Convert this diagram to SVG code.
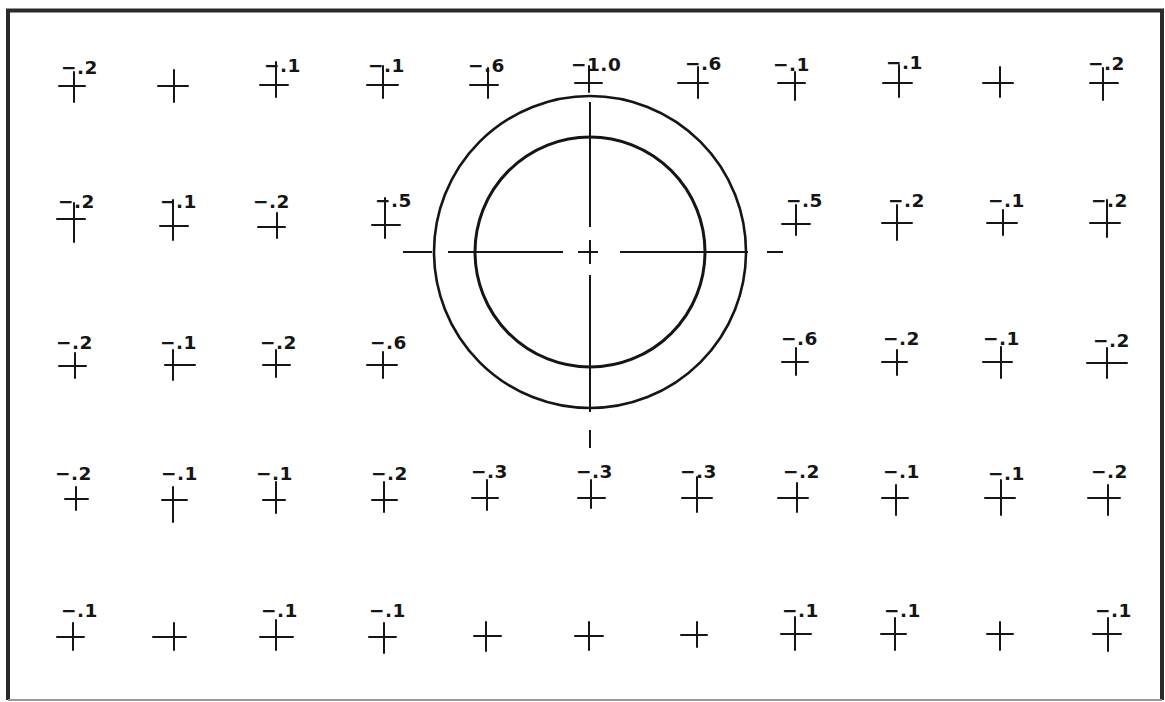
<svg xmlns="http://www.w3.org/2000/svg" width="1165" height="702" viewBox="0 0 1165 702">
<style>
.frame{fill:none;stroke:#2a2a2a;stroke-width:4}
.fb{fill:none;stroke:#9a9a9a;stroke-width:2}
.x{fill:none;stroke:#151515;stroke-width:2;stroke-linecap:round}
.c1{fill:none;stroke:#151515;stroke-width:2.6}
.c2{fill:none;stroke:#151515;stroke-width:3}
.cl{fill:none;stroke:#151515;stroke-width:2}
text{font-family:"DejaVu Sans","Liberation Sans",sans-serif;font-weight:bold;font-size:18.5px;fill:#151515;letter-spacing:0.5px}
</style>
<rect width="1165" height="702" fill="#ffffff"/>
<path class="frame" d="M8 700 V10.5 H1162 V700"/>
<line class="fb" x1="8" y1="700" x2="1162" y2="700"/>
<g id="ring">
<circle class="c1" cx="590" cy="252" r="156"/>
<circle class="c2" cx="590" cy="252" r="115"/>
</g>
<g id="centerlines">
<path class="cl" d="M403 252H432 M448 252H563 M578 252H598 M620 252H748 M767 252H783"/>
<path class="cl" d="M590 102V227 M590 240V264 M590 275V412 M590 430V448"/>
</g>
<g id="r1">
<g id="n1-1"><path class="x" d="M59 86H85M74 72V102"/><text x="61" y="74">−.2</text></g>
<g id="n1-2"><path class="x" d="M158 86H188M174 70V102"/></g>
<g id="n1-3"><path class="x" d="M260 85H288M276 62V97"/><text x="264" y="72">−.1</text></g>
<g id="n1-4"><path class="x" d="M367 85H398M383 66V98"/><text x="368" y="72">−.1</text></g>
<g id="n1-5"><path class="x" d="M470 85H498M488 68V98"/><text x="468" y="72">−.6</text></g>
<g id="n1-6"><path class="x" d="M575 83H602M589 66V92"/><text x="571" y="71">−1.0</text></g>
<g id="n1-7"><path class="x" d="M678 83H708M698 67V98"/><text x="685" y="70">−.6</text></g>
<g id="n1-8"><path class="x" d="M778 83H805M795 72V100"/><text x="773" y="71">−.1</text></g>
<g id="n1-9"><path class="x" d="M883 83H912M899 65V97"/><text x="886" y="69">−.1</text></g>
<g id="n1-10"><path class="x" d="M983 83H1013M1000 67V97"/></g>
<g id="n1-11"><path class="x" d="M1090 83H1118M1103 68V100"/><text x="1088" y="70">−.2</text></g>
</g>
<g id="r2">
<g id="n2-1"><path class="x" d="M57 219H85M74 203V242"/><text x="58" y="208">−.2</text></g>
<g id="n2-2"><path class="x" d="M160 226H188M173 200V240"/><text x="160" y="208">−.1</text></g>
<g id="n2-3"><path class="x" d="M258 227H285M277 213V238"/><text x="253" y="208">−.2</text></g>
<g id="n2-4"><path class="x" d="M372 225H400M385 198V238"/><text x="375" y="207">−.5</text></g>
<g id="n2-8"><path class="x" d="M782 224H810M796 205V235"/><text x="786" y="207">−.5</text></g>
<g id="n2-9"><path class="x" d="M882 223H912M897 205V240"/><text x="888" y="207">−.2</text></g>
<g id="n2-10"><path class="x" d="M987 223H1017M1003 210V235"/><text x="988" y="207">−.1</text></g>
<g id="n2-11"><path class="x" d="M1090 223H1120M1107 200V237"/><text x="1091" y="207">−.2</text></g>
</g>
<g id="r3">
<g id="n3-1"><path class="x" d="M59 366H86M75 353V378"/><text x="56" y="349">−.2</text></g>
<g id="n3-2"><path class="x" d="M165 365H195M173 350V380"/><text x="160" y="349">−.1</text></g>
<g id="n3-3"><path class="x" d="M263 365H290M276 350V377"/><text x="260" y="349">−.2</text></g>
<g id="n3-4"><path class="x" d="M367 365H397M383 352V378"/><text x="370" y="349">−.6</text></g>
<g id="n3-8"><path class="x" d="M782 362H808M796 348V375"/><text x="781" y="345">−.6</text></g>
<g id="n3-9"><path class="x" d="M882 362H907M897 350V375"/><text x="883" y="345">−.2</text></g>
<g id="n3-10"><path class="x" d="M983 362H1012M1001 347V378"/><text x="983" y="345">−.1</text></g>
<g id="n3-11"><path class="x" d="M1087 363H1127M1107 348V378"/><text x="1093" y="347">−.2</text></g>
</g>
<g id="r4">
<g id="n4-1"><path class="x" d="M65 499H88M76 487V510"/><text x="55" y="480">−.2</text></g>
<g id="n4-2"><path class="x" d="M162 500H187M173 487V522"/><text x="161" y="480">−.1</text></g>
<g id="n4-3"><path class="x" d="M263 500H285M276 482V513"/><text x="256" y="480">−.1</text></g>
<g id="n4-4"><path class="x" d="M372 500H397M384 482V512"/><text x="371" y="480">−.2</text></g>
<g id="n4-5"><path class="x" d="M472 498H498M487 480V510"/><text x="471" y="478">−.3</text></g>
<g id="n4-6"><path class="x" d="M578 498H605M591 480V508"/><text x="576" y="478">−.3</text></g>
<g id="n4-7"><path class="x" d="M682 498H712M697 477V512"/><text x="680" y="478">−.3</text></g>
<g id="n4-8"><path class="x" d="M778 498H808M797 483V512"/><text x="783" y="478">−.2</text></g>
<g id="n4-9"><path class="x" d="M882 498H908M896 485V515"/><text x="883" y="478">−.1</text></g>
<g id="n4-10"><path class="x" d="M985 498H1015M1001 480V515"/><text x="988" y="480">−.1</text></g>
<g id="n4-11"><path class="x" d="M1088 498H1120M1108 485V515"/><text x="1091" y="478">−.2</text></g>
</g>
<g id="r5">
<g id="n5-1"><path class="x" d="M57 637H84M73 623V650"/><text x="61" y="617">−.1</text></g>
<g id="n5-2"><path class="x" d="M153 637H186M174 623V650"/></g>
<g id="n5-3"><path class="x" d="M260 637H293M276 620V650"/><text x="261" y="617">−.1</text></g>
<g id="n5-4"><path class="x" d="M369 637H396M384 623V653"/><text x="369" y="617">−.1</text></g>
<g id="n5-5"><path class="x" d="M474 636H501M486 622V651"/></g>
<g id="n5-6"><path class="x" d="M575 636H603M589 622V650"/></g>
<g id="n5-7"><path class="x" d="M681 635H707M697 622V647"/></g>
<g id="n5-8"><path class="x" d="M781 634H811M795 617V650"/><text x="782" y="617">−.1</text></g>
<g id="n5-9"><path class="x" d="M881 634H906M895 618V650"/><text x="884" y="617">−.1</text></g>
<g id="n5-10"><path class="x" d="M987 634H1013M1000 622V650"/></g>
<g id="n5-11"><path class="x" d="M1093 634H1121M1108 618V651"/><text x="1095" y="617">−.1</text></g>
</g>
</svg>
